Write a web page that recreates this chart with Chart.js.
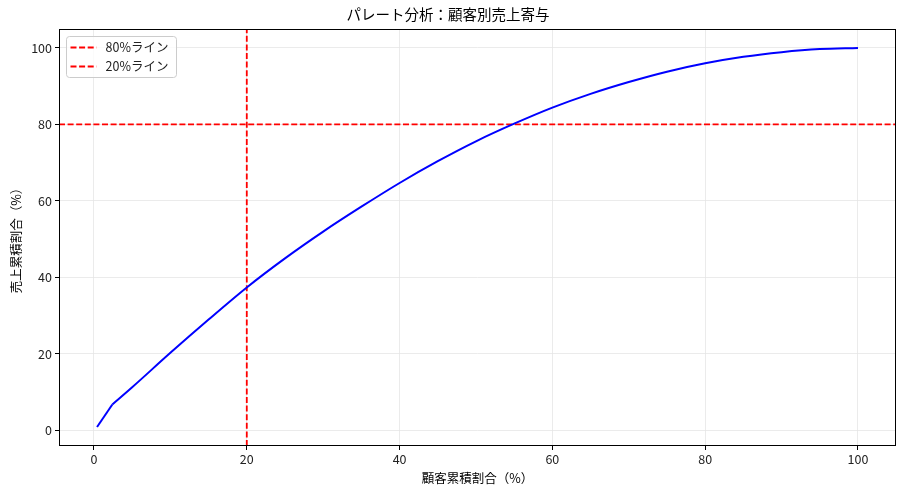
<!DOCTYPE html>
<html>
<head>
<meta charset="utf-8">
<script src="https://cdn.jsdelivr.net/npm/chart.js@4/dist/chart.umd.min.js"></script>
<style>
  html, body { margin: 0; padding: 0; background: #fff; }
  #wrap { width: 905px; height: 493px; }
</style>
</head>
<body>
<div id="wrap"><canvas id="paretoChart"></canvas></div>
<script>
// 顧客累積割合（%）と売上累積割合（%）
const customerPct = [0.4, 2.4, 5, 10, 15, 20, 25, 30, 35, 40, 45, 50, 55, 60, 65, 70, 75, 80, 85, 90, 95, 100];
const salesPct    = [0.9, 6.8, 11.3, 20.3, 29.0, 37.4, 45.0, 52.0, 58.5, 64.7, 70.4, 75.6, 80.2, 84.4, 88.0, 91.1, 93.8, 96.0, 97.7, 98.9, 99.7, 100];
const refLines = [
  { label: '80%ライン', axis: 'y', value: 80 },
  { label: '20%ライン', axis: 'x', value: 20 }
];
const xTicks = [0, 20, 40, 60, 80, 100];
const yTicks = [0, 20, 40, 60, 80, 100];

const xMin = -4.58, xMax = 104.98;
const yMin = -4.06, yMax = 104.96;
const font = '"Noto Sans CJK JP", "Noto Sans", sans-serif';

document.addEventListener('DOMContentLoaded', function () {
    const ctx = document.getElementById('paretoChart').getContext('2d');
    const points = customerPct.map((x, i) => ({ x: x, y: salesPct[i] }));

    // first customer segment is straight, the rest is a smooth curve
    const datasets = [{
        label: '',
        data: points.slice(0, 2),
        borderColor: '#0000ff',
        borderWidth: 2,
        pointRadius: 0,
        tension: 0,
        showInLegend: false
    }, {
        label: '',
        data: points.slice(1),
        borderColor: '#0000ff',
        borderWidth: 2,
        pointRadius: 0,
        cubicInterpolationMode: 'monotone',
        showInLegend: false
    }];
    refLines.forEach(function (r) {
        datasets.push({
            label: r.label,
            data: r.axis === 'y'
                ? [{ x: xMin, y: r.value }, { x: xMax, y: r.value }]
                : [{ x: r.value, y: yMin }, { x: r.value, y: yMax }],
            borderColor: '#ff0000',
            borderWidth: 1.8,
            borderDash: [6, 2.6],
            pointRadius: 0,
            showInLegend: true
        });
    });

    // spines + legend box in the upper left
    const framePlugin = {
        id: 'frame',
        afterDraw(chart) {
            const c = chart.ctx, a = chart.chartArea;
            c.save();
            c.strokeStyle = '#000';
            c.lineWidth = 1;
            c.strokeRect(Math.round(a.left) + 0.5, Math.round(a.top) + 0.5,
                         Math.round(a.right - a.left) - 1, Math.round(a.bottom - a.top) - 1);

            const items = chart.data.datasets.filter(d => d.showInLegend);
            const bx = a.left + 7.5, by = a.top + 7.5, bw = 110, bh = 41;
            c.beginPath();
            c.roundRect(bx, by, bw, bh, 3);
            c.fillStyle = 'rgba(255,255,255,0.8)';
            c.fill();
            c.strokeStyle = '#cccccc';
            c.lineWidth = 1;
            c.stroke();
            c.font = '12.5px ' + font;
            c.textBaseline = 'middle';
            items.forEach(function (d, i) {
                const y = by + 11 + i * 19;
                c.beginPath();
                c.setLineDash(d.borderDash);
                c.strokeStyle = d.borderColor;
                c.lineWidth = d.borderWidth;
                c.moveTo(bx + 4, y);
                c.lineTo(bx + 30, y);
                c.stroke();
                c.setLineDash([]);
                c.fillStyle = '#222';
                c.fillText(d.label, bx + 39, y);
            });
            c.restore();
        }
    };

    new Chart(ctx, {
        type: 'line',
        data: { datasets: datasets },
        plugins: [framePlugin],
        options: {
            responsive: true,
            maintainAspectRatio: false,
            animation: false,
            layout: { padding: { left: 0, right: 9, top: 0, bottom: 0 } },
            plugins: {
                legend: { display: false },
                tooltip: { enabled: false },
                title: {
                    display: true,
                    text: 'パレート分析：顧客別売上寄与',
                    color: '#000',
                    font: { family: font, size: 14.5, weight: 'normal', lineHeight: 1.2 },
                    padding: { top: 6, bottom: 5.6 }
                }
            },
            scales: {
                x: {
                    type: 'linear',
                    min: xMin,
                    max: xMax,
                    afterBuildTicks: function (scale) {
                        scale.ticks = xTicks.map(v => ({ value: v }));
                    },
                    afterFit: function (scale) { scale.height = 47; },
                    ticks: {
                        color: '#222',
                        font: { family: font, size: 12.5 },
                        padding: 2,
                        maxRotation: 0,
                        callback: v => String(v)
                    },
                    grid: { color: '#e6e6e6', lineWidth: 0.8, tickColor: '#000', tickLength: 4, tickWidth: 1 },
                    border: { display: false },
                    title: {
                        display: true,
                        text: '顧客累積割合（%）',
                        color: '#000',
                        font: { family: font, size: 12.5, lineHeight: 1.2 },
                        padding: { top: 0, bottom: 7.5 }
                    }
                },
                y: {
                    type: 'linear',
                    min: yMin,
                    max: yMax,
                    afterBuildTicks: function (scale) {
                        scale.ticks = yTicks.map(v => ({ value: v }));
                    },
                    afterFit: function (scale) { scale.width = 59; },
                    ticks: {
                        color: '#222',
                        font: { family: font, size: 12.5 },
                        padding: 3,
                        callback: v => String(v)
                    },
                    grid: { color: '#e6e6e6', lineWidth: 0.8, tickColor: '#000', tickLength: 4, tickWidth: 1 },
                    border: { display: false },
                    title: {
                        display: true,
                        text: '売上累積割合（%）',
                        color: '#000',
                        font: { family: font, size: 12.5, lineHeight: 1.2 },
                        padding: { top: 8.5, bottom: 0 }
                    }
                }
            }
        }
    });
});
</script>
</body>
</html>
